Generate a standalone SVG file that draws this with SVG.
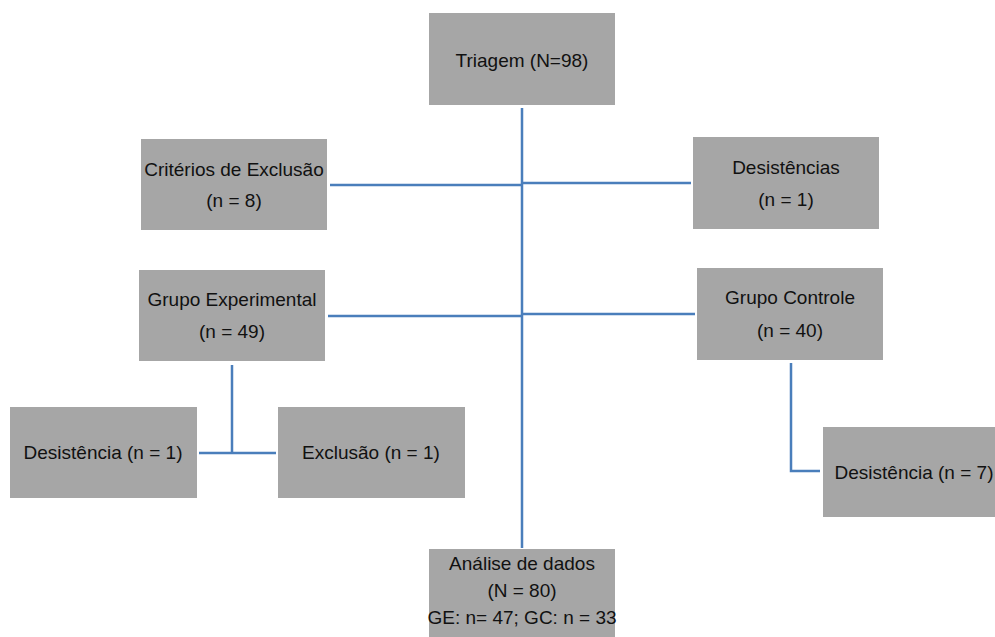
<svg xmlns="http://www.w3.org/2000/svg" width="995" height="637" viewBox="0 0 995 637">
<style>
.box{fill:#a6a6a6;}
.t{font-family:"Liberation Sans",Arial,sans-serif;font-size:19px;fill:#111;text-anchor:middle;}
.c{stroke:#4a7ebb;stroke-width:2.5;fill:none;}
</style>
<rect width="995" height="637" fill="#fff"/>
<g id="connectors">
<line class="c" x1="522" y1="108" x2="522" y2="548" stroke-width="3"/>
<line class="c" x1="330" y1="185" x2="522" y2="185"/>
<line class="c" x1="522" y1="183" x2="691" y2="183"/>
<line class="c" x1="328" y1="316" x2="522" y2="316"/>
<line class="c" x1="522" y1="314" x2="695" y2="314"/>
<line class="c" x1="232" y1="365" x2="232" y2="453"/>
<line class="c" x1="199" y1="453" x2="276" y2="453"/>
<polyline class="c" points="791,363 791,471 820,471"/>
</g>
<g id="triagem"><rect class="box" x="429" y="13" width="186" height="92"/><text class="t" x="522" y="67">Triagem (N=98)</text></g>
<g id="criterios"><rect class="box" x="141" y="139" width="186" height="91"/><text class="t" x="234" y="176">Critérios de Exclusão</text><text class="t" x="234" y="207">(n = 8)</text></g>
<g id="desistencias"><rect class="box" x="693" y="137" width="186" height="92"/><text class="t" x="786" y="174">Desistências</text><text class="t" x="786" y="206">(n = 1)</text></g>
<g id="grupo-experimental"><rect class="box" x="139" y="270" width="186" height="91"/><text class="t" x="232" y="306">Grupo Experimental</text><text class="t" x="232" y="338">(n = 49)</text></g>
<g id="grupo-controle"><rect class="box" x="697" y="268" width="186" height="92"/><text class="t" x="790" y="304">Grupo Controle</text><text class="t" x="790" y="337">(n = 40)</text></g>
<g id="desistencia-ge"><rect class="box" x="10" y="407" width="187" height="91"/><text class="t" x="103" y="459">Desistência (n = 1)</text></g>
<g id="exclusao-ge"><rect class="box" x="278" y="407" width="187" height="91"/><text class="t" x="371" y="459">Exclusão (n = 1)</text></g>
<g id="desistencia-gc"><rect class="box" x="823" y="427" width="186" height="90"/><text class="t" x="914" y="479">Desistência (n = 7)</text></g>
<g id="analise"><rect class="box" x="429" y="549" width="186" height="95"/><text class="t" x="522" y="570">Análise de dados</text><text class="t" x="522" y="597">(N = 80)</text><text class="t" x="522" y="624">GE: n= 47; GC: n = 33</text></g>
</svg>
